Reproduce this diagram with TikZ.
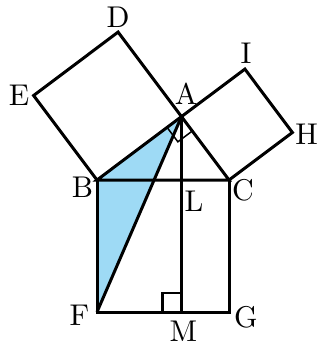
\documentclass[tikz,border=0pt]{standalone}
\usetikzlibrary{calc}
\definecolor{tri}{RGB}{158,218,245}
\newcommand{\biglab}[1]{\scalebox{3}{\fontsize{10}{12}\selectfont #1}}
\begin{document}
\begin{tikzpicture}[x=1pt,y=-1pt,
  edge/.style={line width=3pt,line join=miter},
  ramark/.style={line width=1.5pt},
  lab/.style={inner sep=0pt}]
\useasboundingbox (0,0) rectangle (322,354);
\coordinate (A) at (181.5,116.6);
\coordinate (B) at (97,180);
\coordinate (C) at (229,180);
\coordinate (D) at (118.1,32.1);
\coordinate (E) at (33.6,95.5);
\coordinate (I) at (244.9,69.1);
\coordinate (H) at (292.4,132.5);
\coordinate (F) at (97,312);
\coordinate (G) at (229,312);
\coordinate (M) at (181.5,312);
\coordinate (L) at (181.5,180);
% filled triangle
\fill[tri] (A) -- (B) -- (F) -- cycle;
% right angle at A
\coordinate (ab) at ($(A)!18pt!(B)$);
\coordinate (ac) at ($(A)!18pt!(C)$);
\coordinate (acr) at ($(ab)+(ac)-(A)$);
\draw[ramark] (ab) -- (acr) -- (ac);
% right angle at M
\coordinate (m1) at (162.5,312);
\coordinate (m2) at (162.5,293);
\coordinate (m3) at (181.5,293);
\draw[line width=2.2pt] (m1) -- (m2) -- (m3);
% squares and lines
\draw[edge] (B) -- (E) -- (D) -- (A);
\draw[edge] (A) -- (I) -- (H) -- (C);
\draw[edge] (A) -- (B) -- (C) -- cycle;
\draw[edge] (B) -- (F) -- (G) -- (C);
\draw[edge] (A) -- (M);
\draw[edge] (A) -- (F);
% labels
\node[lab] (lD) at (118,17.5) {\biglab{D}};
\node[lab] (lE) at (19,95) {\biglab{E}};
\node[lab] (lA) at (186,94) {\biglab{A}};
\node[lab] (lI) at (246,53) {\biglab{I}};
\node[lab] (lH) at (306.5,134) {\biglab{H}};
\node[lab] (lB) at (82.5,187.5) {\biglab{B}};
\node[lab] (lL) at (194,201) {\biglab{L}};
\node[lab] (lC) at (243,190.5) {\biglab{C}};
\node[lab] (lF) at (79.5,315) {\biglab{F}};
\node[lab] (lM) at (183.5,331.5) {\biglab{M}};
\node[lab] (lG) at (246,317.5) {\biglab{G}};
\end{tikzpicture}
\end{document}
